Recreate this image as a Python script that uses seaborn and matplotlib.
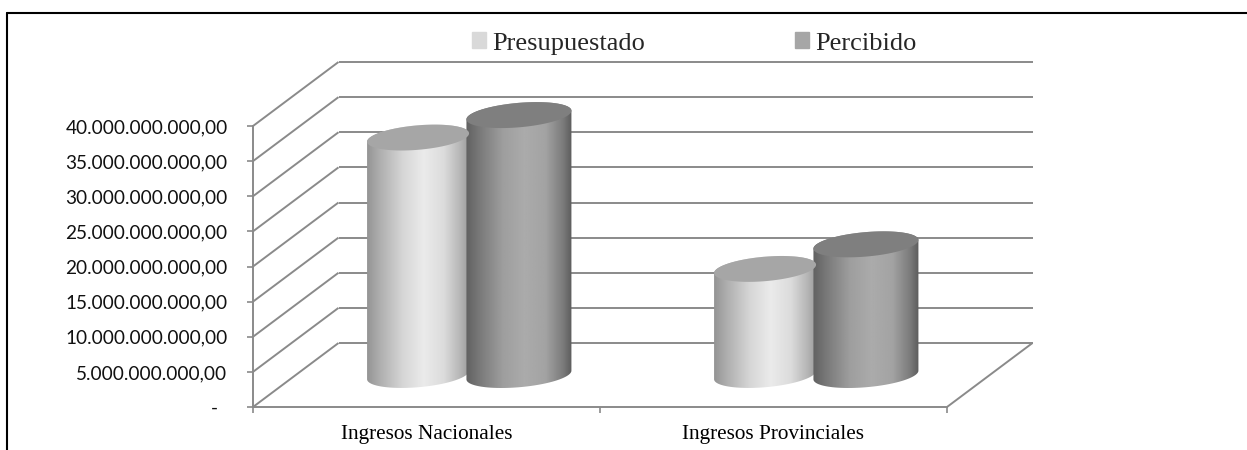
import numpy as np
import pandas as pd
import seaborn as sns
import matplotlib
matplotlib.use("Agg")
import matplotlib.pyplot as plt
from matplotlib.lines import Line2D
from matplotlib.patches import Patch, PathPatch, Polygon
from matplotlib.path import Path
from matplotlib.transforms import IdentityTransform

categorias = ["Ingresos Nacionales", "Ingresos Provinciales"]
series = ["Presupuestado", "Percibido"]
presupuestado = [33.8e9, 15.1e9]
percibido = [37.0e9, 18.6e9]
ticks = [0, 5e9, 10e9, 15e9, 20e9, 25e9, 30e9, 35e9, 40e9]
tick_labels = ["-  ", "5.000.000.000,00", "10.000.000.000,00", "15.000.000.000,00",
               "20.000.000.000,00", "25.000.000.000,00", "30.000.000.000,00",
               "35.000.000.000,00", "40.000.000.000,00"]

W, H = 1247, 450
GRIS = "#8a8a8a"
DX, DY = 85.5, 64          # profundidad del piso, en pixeles

sns.set_theme(style="white")

df = pd.DataFrame({
    "categoria": categorias * 2,
    "serie": [series[0]] * 2 + [series[1]] * 2,
    "valor": presupuestado + percibido,
})

fig = plt.figure(figsize=(W / 100, H / 100), dpi=100)
ax = fig.add_axes([253 / W, 1 - 407 / H, (947 - 253) / W, (407 - 126) / H])
ax.patch.set_alpha(0)

sns.barplot(data=df, x="categoria", y="valor", hue="serie", hue_order=series,
            palette=["#d9d9d9", "#a6a6a6"], width=0.59, gap=0, legend=False, ax=ax)
ax.set_xlim(-0.5, 1.5)
ax.set_ylim(0, 40e9)
ax.set_autoscale_on(False)
ax.set_xlabel("")
ax.set_ylabel("")

# ejes
for lado in ["top", "right"]:
    ax.spines[lado].set_visible(False)
for lado in ["left", "bottom"]:
    ax.spines[lado].set_color(GRIS)
    ax.spines[lado].set_linewidth(1.4)
ax.set_yticks(ticks)
ax.set_yticklabels(tick_labels, fontfamily="Lato", fontsize=13.7, color="#111111")
ax.set_xticks([0, 1])
ax.set_xticklabels(categorias, fontfamily="Liberation Serif", fontsize=15.3, color="black")
ax.set_xticks([-0.5, 0.5, 1.5], minor=True)
ax.tick_params(axis="x", which="major", length=0, pad=13)
ax.tick_params(axis="x", which="minor", length=4.3, width=1.2, color=GRIS, bottom=True)
ax.tick_params(axis="y", length=4.3, width=1.2, color=GRIS, pad=14, left=True)


def px(x, v, d=0.0):
    p = ax.transData.transform((x, v))
    return p[0] + d * DX, p[1] + d * DY


def linea(a, b):
    ax.add_line(Line2D([a[0], b[0]], [a[1], b[1]], color=GRIS, lw=1.4, zorder=1,
                       transform=IdentityTransform(), clip_on=False,
                       solid_capstyle="butt"))


# paredes y grilla
for t in ticks:
    linea(px(-0.5, t), px(-0.5, t, 1))
    linea(px(-0.5, t, 1), px(1.5, t, 1))
linea(px(1.5, 0), px(1.5, 0, 1))


def elipse(cx, cy, a, b, t):
    phi = np.radians(5)
    return np.column_stack([
        cx + a * np.cos(t) * np.cos(phi) - b * np.sin(t) * np.sin(phi),
        cy + a * np.cos(t) * np.sin(phi) + b * np.sin(t) * np.cos(phi),
    ])


def cilindro(barra, sombra, tapa, extra=0.0):
    x0, w, v = barra.get_x(), barra.get_width(), barra.get_height()
    barra.set_visible(False)
    xm = x0 + w / 2
    cx, y_base = px(xm, 0, 0.5)
    _, y_top = px(xm, v, 0.5)
    a = (px(x0 + w, 0)[0] - px(x0, 0)[0]) / 2 + extra
    cx -= extra
    b = 12.2

    # cuerpo: arco inferior de la base + arco superior de la tapa
    abajo = elipse(cx, y_base, a, b, np.linspace(np.pi, 2 * np.pi, 60))
    arriba = elipse(cx, y_top, a, b, np.linspace(0, np.pi, 60))
    contorno = np.vstack([abajo, arriba, abajo[:1]])
    clip = PathPatch(Path(contorno), transform=IdentityTransform(), fc="none", ec="none")
    ax.add_patch(clip)

    u = np.linspace(0, 1, 256)
    grad = np.interp(u, sombra[0], sombra[1])[None, :]
    im = ax.imshow(grad, cmap="gray", vmin=0, vmax=1, aspect="auto",
                   interpolation="bilinear", zorder=3,
                   extent=(cx - a, cx + a, y_base - 20, y_top + 20))
    im.set_transform(IdentityTransform())
    im.set_clip_box(fig.bbox)
    im.set_clip_path(clip)

    sup = elipse(cx, y_top, a, b, np.linspace(0, 2 * np.pi, 120))
    ax.add_patch(Polygon(sup, closed=True, fc=tapa, ec="none", zorder=4,
                         transform=IdentityTransform(), clip_on=False))


claro = ([0, 0.12, 0.35, 0.55, 0.75, 0.92, 1],
         [0.58, 0.68, 0.84, 0.92, 0.86, 0.70, 0.60])
oscuro = ([0, 0.12, 0.35, 0.55, 0.75, 0.92, 1],
          [0.38, 0.47, 0.62, 0.67, 0.64, 0.48, 0.36])

barras = list(ax.patches)
for i, barra in enumerate(barras):
    if i < 2:
        cilindro(barra, claro, "#a6a6a6")
    else:
        cilindro(barra, oscuro, "#7f7f7f", extra=1.5)

# leyenda
fig.legend(handles=[Patch(color="#d9d9d9", label=series[0]), Patch(color="#a6a6a6", label=series[1])],
           loc="center left", bbox_to_anchor=(472 / W, 1 - 43.5 / H), ncol=2, frameon=False,
           prop={"family": "Liberation Serif", "size": 19}, handlelength=0.52, handleheight=0.52,
           handletextpad=0.24, columnspacing=5.7, borderpad=0, borderaxespad=0)

# marco exterior
fig.add_artist(Line2D([7 / W, 1], [1 - 13 / H, 1 - 13 / H], color="black", lw=1.5, transform=fig.transFigure))
fig.add_artist(Line2D([7 / W, 7 / W], [0, 1 - 13 / H], color="black", lw=1.5, transform=fig.transFigure))

fig.savefig("out.png", dpi=100)
